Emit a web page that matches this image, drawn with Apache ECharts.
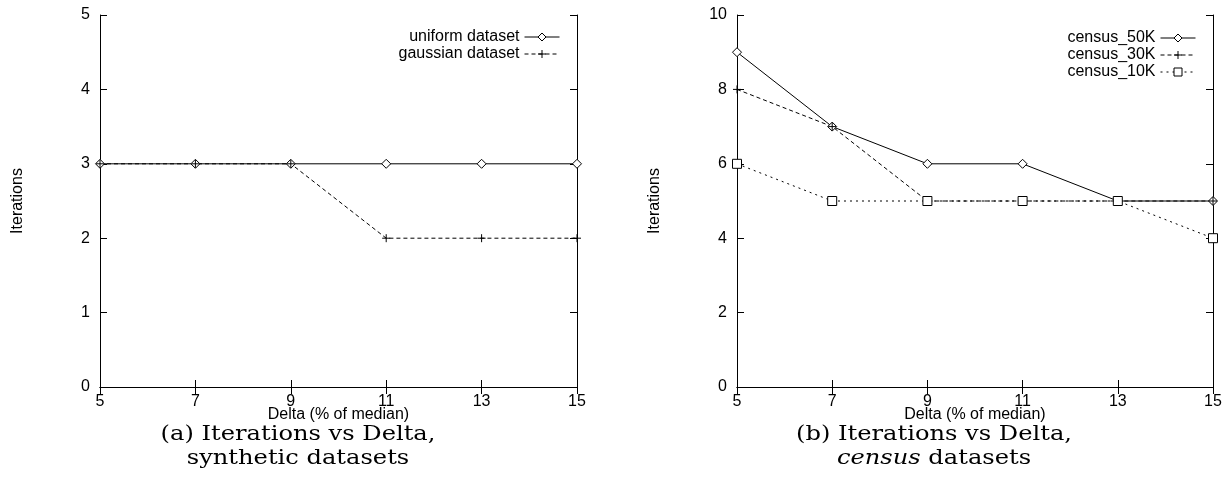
<!DOCTYPE html>
<html>
<head>
<meta charset="utf-8">
<script src="https://cdn.jsdelivr.net/npm/echarts@6/dist/echarts.min.js"></script>
<style>
  html, body { margin: 0; padding: 0; background: #fff; }
  #chart { width: 1229px; height: 500px; }
</style>
</head>
<body>
<div id="chart"></div>
<script>
// Delta values (% of median) on the x axis
const deltas = ['5', '7', '9', '11', '13', '15'];

// (a) synthetic datasets
const uniformIters = [3, 3, 3, 3, 3, 3];
const gaussianIters = [3, 3, 3, 2, 2, 2];

// (b) census datasets
const census50K = [9, 7, 6, 6, 5, 5];
const census30K = [8, 7, 5, 5, 5, 5];
const census10K = [6, 5, 5, 5, 5, 4];

const SANS = '"Liberation Sans", Arial, sans-serif';
const SERIF = '"DejaVu Serif", serif';
const PLUS = 'path://M0,5L10,5M5,0L5,10';

const chart = echarts.init(document.getElementById('chart'), null, { renderer: 'canvas' });

const tickStyle = { show: true, inside: true, length: 7, lineStyle: { color: '#000', width: 1 } };
const lineAxis = { show: true, lineStyle: { color: '#000', width: 1 } };
const labelStyle = { color: '#000', fontFamily: SANS, fontSize: 16 };

function xAxes(gridIndex) {
  return [
    {
      type: 'category', gridIndex, data: deltas, boundaryGap: false, position: 'bottom',
      axisLine: lineAxis, axisTick: tickStyle, splitLine: { show: false },
      axisLabel: Object.assign({ margin: 7 }, labelStyle),
      name: 'Delta (% of median)', nameLocation: 'middle', nameGap: 20, nameMoveOverlap: false,
      nameTextStyle: labelStyle
    },
    {
      type: 'category', gridIndex, data: deltas, boundaryGap: false, position: 'top',
      axisLine: lineAxis, axisTick: tickStyle, axisLabel: { show: false }, splitLine: { show: false }
    }
  ];
}

function yAxes(gridIndex, max, interval) {
  return [
    {
      type: 'value', gridIndex, min: 0, max, interval, position: 'left',
      axisLine: lineAxis, axisTick: tickStyle, splitLine: { show: false },
      axisLabel: Object.assign({ margin: 10 }, labelStyle),
      name: 'Iterations', nameLocation: 'middle', nameGap: 74, nameRotate: 90, nameMoveOverlap: false,
      nameTextStyle: labelStyle
    },
    {
      type: 'value', gridIndex, min: 0, max, interval, position: 'right',
      axisLine: lineAxis, axisTick: tickStyle, axisLabel: { show: false }, splitLine: { show: false }
    }
  ];
}

function lineSeries(name, data, axisIdx, symbol, symbolSize, dash) {
  return {
    name, type: 'line', data,
    xAxisIndex: axisIdx, yAxisIndex: axisIdx,
    symbol, symbolSize, showAllSymbol: true,
    lineStyle: { color: '#000', width: 1, type: dash },
    itemStyle: { color: '#fff', borderColor: '#000', borderWidth: 1 },
    emphasis: { disabled: true },
    animation: false
  };
}

const legendBase = {
  orient: 'vertical', align: 'right', top: 29,
  itemWidth: 35, itemHeight: 10, itemGap: 1,
  lineStyle: { width: 1 },
  itemStyle: { borderWidth: 1 },
  textStyle: { color: '#000', fontFamily: SANS, fontSize: 16, padding: [0, 0, 0, 0] },
  selectedMode: false, padding: 0
};

chart.setOption({
  backgroundColor: '#fff',
  animation: false,
  grid: [
    { left: 100, right: 652, top: 15, bottom: 113 },
    { left: 737, right: 16, top: 15, bottom: 113 }
  ],
  xAxis: xAxes(0).concat(xAxes(1)),
  yAxis: yAxes(0, 5, 1).concat(yAxes(1, 10, 2)),
  legend: [
    Object.assign({}, legendBase, { right: 669, data: ['uniform dataset', 'gaussian dataset'] }),
    Object.assign({}, legendBase, { top: 30, right: 33, data: ['census_50K', 'census_30K', 'census_10K'] })
  ],
  series: [
    lineSeries('uniform dataset', uniformIters, 0, 'diamond', 9, 'solid'),
    lineSeries('gaussian dataset', gaussianIters, 0, PLUS, 8, [4, 3]),
    lineSeries('census_50K', census50K, 2, 'diamond', 9, 'solid'),
    lineSeries('census_30K', census30K, 2, PLUS, 8, [4, 3]),
    lineSeries('census_10K', census10K, 2, 'rect', 9, [2, 4])
  ],
  graphic: [
    {
      type: 'text', x: 298, y: 423, scaleX: 1.15,
      style: {
        text: '(a) Iterations vs Delta,\nsynthetic datasets',
        font: '21px ' + SERIF, fill: '#000', align: 'center', verticalAlign: 'top', lineHeight: 24
      }
    },
    {
      type: 'text', x: 934, y: 423, scaleX: 1.15,
      style: {
        text: '(b) Iterations vs Delta,\n{it|census} datasets',
        font: '21px ' + SERIF, fill: '#000', align: 'center', verticalAlign: 'top', lineHeight: 24,
        rich: { it: { fontStyle: 'italic', fontFamily: SERIF, fontSize: 21, lineHeight: 24 } }
      }
    }
  ]
});
</script>
</body>
</html>
